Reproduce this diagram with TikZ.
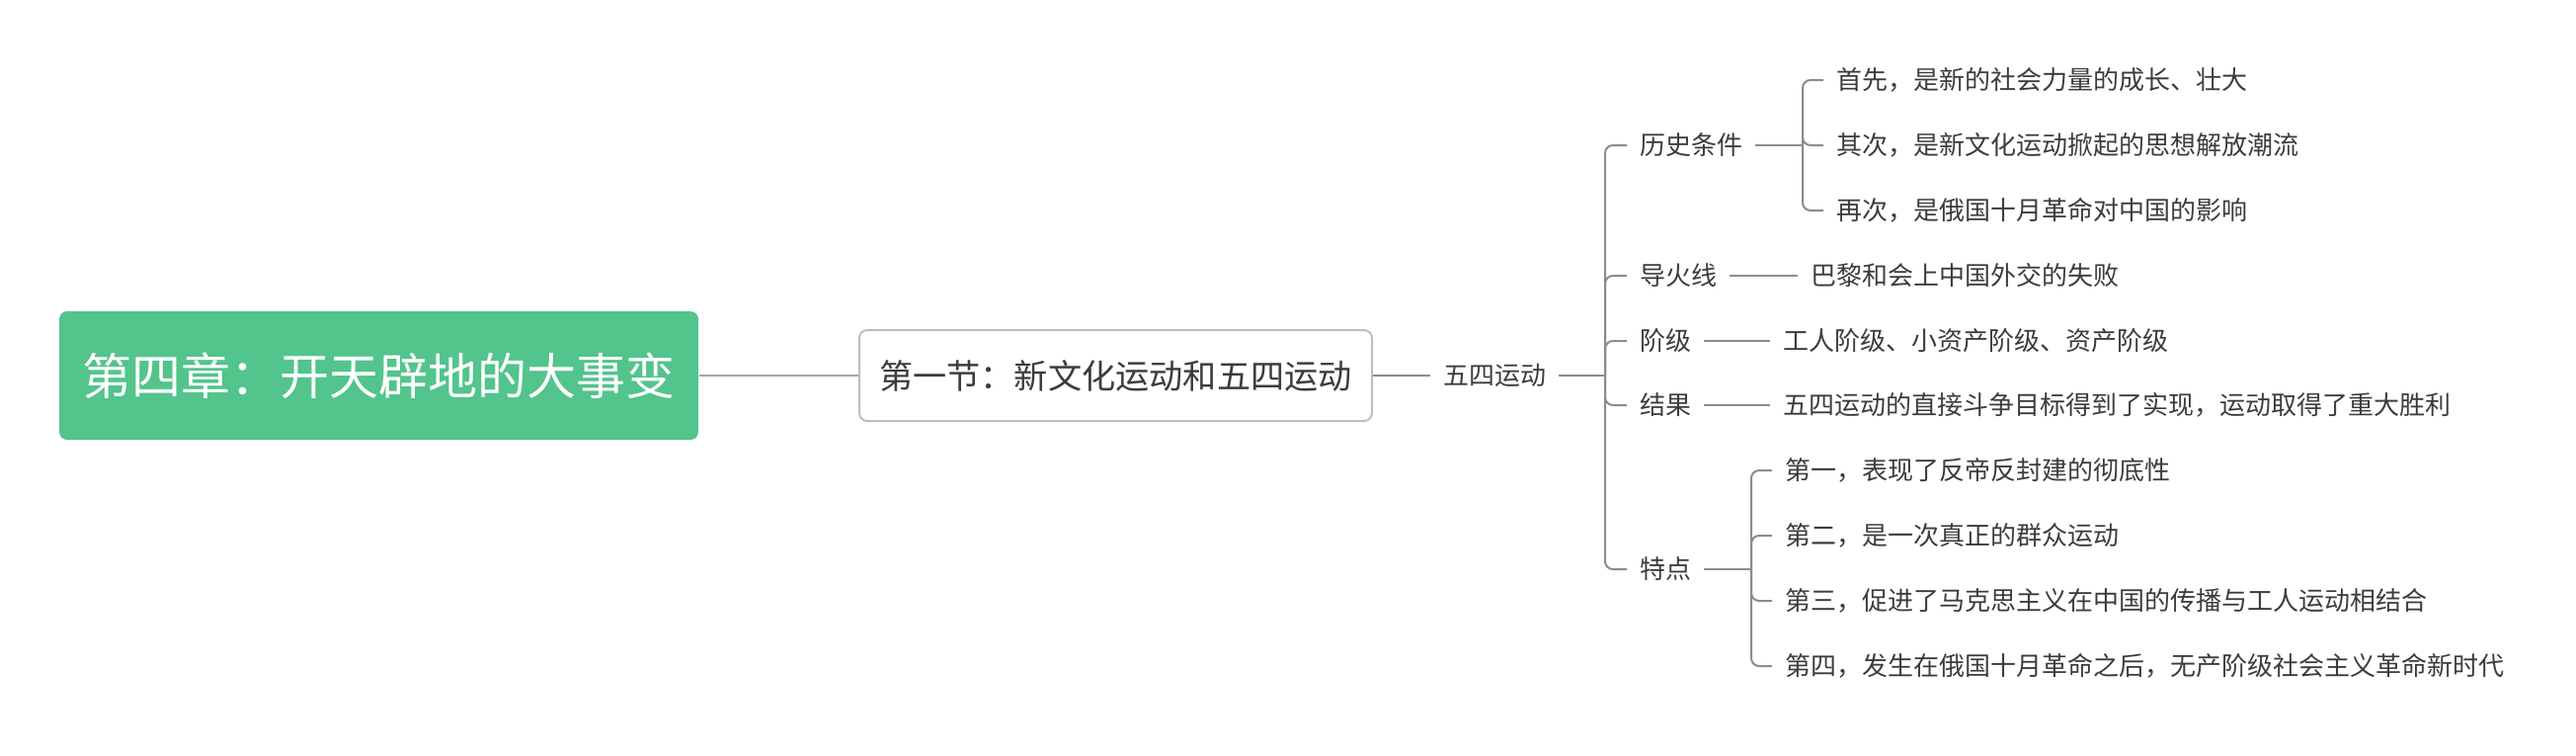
\documentclass[tikz,border=0pt]{standalone}
\usepackage{fontspec}
\setmainfont{Noto Sans CJK SC}
\usetikzlibrary{positioning}
\definecolor{cverde}{RGB}{82,196,140}
\definecolor{cborde}{RGB}{190,190,190}
\definecolor{clinea}{RGB}{165,165,165}
\definecolor{cgris}{RGB}{140,140,140}
\definecolor{ctexto}{RGB}{60,60,60}

\begin{document}
\begin{tikzpicture}[line width=2pt,
    raiz/.style={fill=cverde, rounded corners=8pt, minimum width=647pt, minimum height=130pt, text=white, font=\fontsize{50pt}{60pt}\selectfont},
    secc/.style={draw=cborde, fill=white, rounded corners=8pt, minimum width=519pt, minimum height=92pt, text=ctexto, font=\fontsize{34.2pt}{41pt}\selectfont},
    tema/.style={inner xsep=12pt, inner ysep=2pt, text=ctexto, font=\fontsize{26pt}{31pt}\selectfont},
    rama/.style={draw=cgris, rounded corners=8pt}]

  \useasboundingbox (0,0) rectangle (2608pt,-764pt);

  \node[raiz] (raiz) at (383.5pt,-380pt) {第四章：开天辟地的大事变};
  \node[secc, right=161pt of raiz] (secc) {第一节：新文化运动和五四运动};
  \node[tema, right=58pt of secc] (wusi) {五四运动};
  \draw[clinea] (raiz) -- (secc);
  \draw[rama] (secc) -- (wusi);

  % ramas del movimiento
  \coordinate[right=47pt of wusi] (j1);
  \draw[rama] (wusi) -- (j1);
  \node[tema, right=22pt of j1, yshift=233pt] (hist) {历史条件};
  \node[tema, right=22pt of j1, yshift=101pt] (dhx) {导火线};
  \node[tema, right=22pt of j1, yshift=35pt] (jieji) {阶级};
  \node[tema, right=22pt of j1, yshift=-30pt] (jieguo) {结果};
  \node[tema, right=22pt of j1, yshift=-196pt] (tedian) {特点};
  \foreach \n in {hist,dhx,jieji,jieguo,tedian}
    \draw[rama] (j1) |- (\n.west);

  % condiciones historicas
  \coordinate[right=48pt of hist] (j2);
  \draw[rama] (hist) -- (j2);
  \node[tema, right=21pt of j2, yshift=66pt] (h1) {首先，是新的社会力量的成长、壮大};
  \node[tema, right=21pt of j2] (h2) {其次，是新文化运动掀起的思想解放潮流};
  \node[tema, right=21pt of j2, yshift=-66pt] (h3) {再次，是俄国十月革命对中国的影响};
  \foreach \n in {h1,h2,h3}
    \draw[rama] (j2) |- (\n.west);

  % hojas sencillas
  \node[tema, right=69pt of dhx] (bl) {巴黎和会上中国外交的失败};
  \draw[rama] (dhx) -- (bl);
  \node[tema, right=67pt of jieji] (gr) {工人阶级、小资产阶级、资产阶级};
  \draw[rama] (jieji) -- (gr);
  \node[tema, right=67pt of jieguo] (mb) {五四运动的直接斗争目标得到了实现，运动取得了重大胜利};
  \draw[rama] (jieguo) -- (mb);

  % caracteristicas
  \coordinate[right=48pt of tedian] (j3);
  \draw[rama] (tedian) -- (j3);
  \node[tema, right=21pt of j3, yshift=100pt] (t1) {第一，表现了反帝反封建的彻底性};
  \node[tema, right=21pt of j3, yshift=34pt] (t2) {第二，是一次真正的群众运动};
  \node[tema, right=21pt of j3, yshift=-32pt] (t3) {第三，促进了马克思主义在中国的传播与工人运动相结合};
  \node[tema, right=21pt of j3, yshift=-98pt] (t4) {第四，发生在俄国十月革命之后，无产阶级社会主义革命新时代};
  \foreach \n in {t1,t2,t3,t4}
    \draw[rama] (j3) |- (\n.west);
\end{tikzpicture}
\end{document}
